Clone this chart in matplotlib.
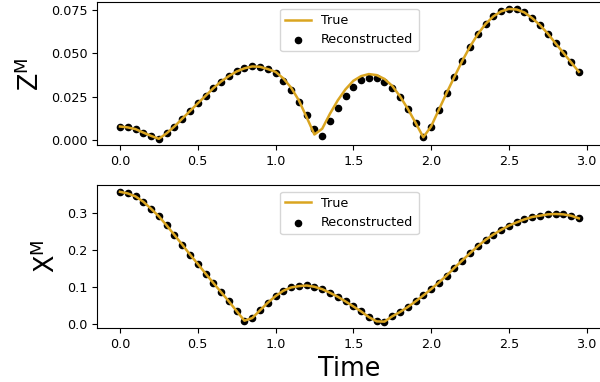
import numpy as np
import matplotlib
matplotlib.use('Agg')
import matplotlib.pyplot as plt

# time points
t = np.arange(60) * 0.05

# Z^M, reconstructed (dots)
z_rec = [0.0077, 0.0072, 0.0062, 0.0042, 0.0023, 0.0006, 0.0038, 0.0077, 0.0122, 0.0166,
         0.0211, 0.0254, 0.0298, 0.0337, 0.0368, 0.0395, 0.0413, 0.0424, 0.0422, 0.0409,
         0.0384, 0.0339, 0.0287, 0.0219, 0.0143, 0.0064, 0.0025, 0.0108, 0.0186, 0.0256,
         0.0306, 0.0343, 0.0358, 0.0358, 0.0337, 0.0300, 0.0248, 0.0180, 0.0099, 0.0015,
         0.0077, 0.0174, 0.0271, 0.0364, 0.0455, 0.0538, 0.0610, 0.0669, 0.0713, 0.0742,
         0.0756, 0.0753, 0.0736, 0.0703, 0.0663, 0.0614, 0.0558, 0.0503, 0.0448, 0.0393]

# Z^M, true (line)
z_true = [0.0077, 0.0072, 0.0062, 0.0042, 0.0023, 0.0006, 0.0038, 0.0077, 0.0122, 0.0166,
          0.0211, 0.0254, 0.0298, 0.0337, 0.0368, 0.0395, 0.0413, 0.0424, 0.0422, 0.0409,
          0.0393, 0.0355, 0.0302, 0.0228, 0.0131, 0.0031, 0.0064, 0.0151, 0.0228, 0.0292,
          0.0341, 0.0368, 0.0380, 0.0374, 0.0352, 0.0312, 0.0252, 0.0180, 0.0099, 0.0015,
          0.0077, 0.0174, 0.0271, 0.0364, 0.0455, 0.0538, 0.0610, 0.0669, 0.0713, 0.0742,
          0.0756, 0.0753, 0.0736, 0.0703, 0.0663, 0.0614, 0.0558, 0.0503, 0.0448, 0.0393]

# X^M
x_rec = [0.358, 0.3536, 0.3455, 0.331, 0.312, 0.2914, 0.267, 0.241, 0.215, 0.188,
         0.1626, 0.1365, 0.111, 0.086, 0.061, 0.0346, 0.0086, 0.0157, 0.0365, 0.0573,
         0.0751, 0.0897, 0.0986, 0.1022, 0.104, 0.1005, 0.094, 0.0843, 0.0735, 0.0608,
         0.0473, 0.0338, 0.0184, 0.0068, 0.006, 0.0203, 0.032, 0.0455, 0.0608, 0.077,
         0.094, 0.112, 0.131, 0.152, 0.1716, 0.1914, 0.2103, 0.2276, 0.242, 0.2546,
         0.2662, 0.2751, 0.2832, 0.2897, 0.2932, 0.2968, 0.2978, 0.2968, 0.2932, 0.286]
x_true = x_rec

line_col = 'goldenrod'
fs_tick = 9.2
fs_lab = 18.4

fig, (ax1, ax2) = plt.subplots(2, 1, figsize=(6, 3.82), dpi=100)
fig.subplots_adjust(left=0.1617, right=1.003, top=0.9935, bottom=0.141, hspace=0.28)

ax1.plot(t, z_true, color=line_col, lw=1.8, label='True', zorder=3)
ax1.scatter(t, z_rec, s=20, color='k', label='Reconstructed', zorder=2)
ax1.set_ylabel('Z$^{\\mathrm{M}}$', fontsize=fs_lab)
ax1.set_yticks([0.0, 0.025, 0.05, 0.075])
ax1.set_xticks([0.0, 0.5, 1.0, 1.5, 2.0, 2.5, 3.0])
ax1.legend(loc='upper center', fontsize=fs_tick)

ax2.plot(t, x_true, color=line_col, lw=1.8, label='True', zorder=3)
ax2.scatter(t, x_rec, s=20, color='k', label='Reconstructed', zorder=2)
ax2.set_ylabel('X$^{\\mathrm{M}}$', fontsize=fs_lab)
ax2.set_xlabel('Time', fontsize=fs_lab)
ax2.set_yticks([0.0, 0.1, 0.2, 0.3])
ax2.set_xticks([0.0, 0.5, 1.0, 1.5, 2.0, 2.5, 3.0])
ax2.legend(loc='upper center', fontsize=fs_tick)

for ax in (ax1, ax2):
    ax.tick_params(labelsize=fs_tick)

plt.savefig('out.png', dpi=100)
